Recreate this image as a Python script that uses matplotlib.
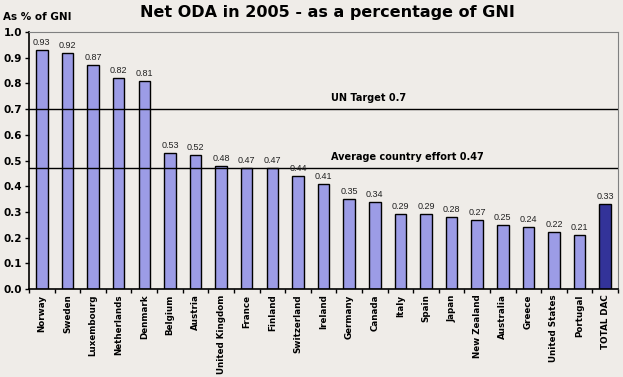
import numpy as np
import matplotlib
matplotlib.use("Agg")
import matplotlib.pyplot as plt
from matplotlib.ticker import FixedLocator

# ---------------------------------------------------------------------
# Data: Net ODA 2005 as % of GNI
# ---------------------------------------------------------------------
countries = ["Norway", "Sweden", "Luxembourg", "Netherlands", "Denmark",
             "Belgium", "Austria", "United Kingdom", "France", "Finland",
             "Switzerland", "Ireland", "Germany", "Canada", "Italy", "Spain",
             "Japan", "New Zealand", "Australia", "Greece", "United States",
             "Portugal", "TOTAL DAC"]
oda_pct = [0.93, 0.92, 0.87, 0.82, 0.81, 0.53, 0.52, 0.48, 0.47, 0.47,
           0.44, 0.41, 0.35, 0.34, 0.29, 0.29, 0.28, 0.27, 0.25, 0.24,
           0.22, 0.21, 0.33]
un_target = 0.7
avg_effort = 0.47

bg = "#efece8"
bar_light = "#9c9ce6"
bar_dark = "#333399"

fig = plt.figure(figsize=(6.23, 3.77), dpi=100, facecolor=bg)
ax = fig.add_axes([0.0466, 0.2334, 0.9454, 0.6816])
ax.set_facecolor(bg)

x = np.arange(len(countries))
colors = [bar_light] * (len(countries) - 1) + [bar_dark]
ax.bar(x, oda_pct, width=0.45, color=colors, edgecolor="black", linewidth=1.0, zorder=2)

for xi, v in zip(x, oda_pct):
    ax.text(xi, v + 0.012, f"{v:.2f}", ha="center", va="bottom",
            fontsize=6.5, family="Liberation Sans", color="#222222", zorder=4)

# reference lines
ax.axhline(un_target, color="black", linewidth=1.0, zorder=3)
ax.axhline(avg_effort, color="black", linewidth=1.0, zorder=3)
ax.text(0.513, un_target + 0.025, "UN Target 0.7", transform=ax.get_yaxis_transform(),
        fontsize=7, fontweight="bold", va="bottom", ha="left")
ax.text(0.513, avg_effort + 0.025, "Average country effort 0.47",
        transform=ax.get_yaxis_transform(),
        fontsize=7, fontweight="bold", va="bottom", ha="left")

ax.set_xlim(-0.5, len(countries) - 0.5)
ax.set_ylim(0, 1.0)
ticks = np.arange(0, 1.01, 0.1)
ax.set_yticks(ticks)
ax.set_yticklabels([f"{t:.1f}" for t in ticks], fontsize=7.5, fontweight="bold")
ax.tick_params(axis="y", direction="out", length=3, width=1, pad=2)

ax.set_xticks(x)
ax.set_xticklabels(countries, rotation=90, fontsize=6.3, fontweight="bold")
ax.tick_params(axis="x", which="major", length=0, pad=4)
ax.xaxis.set_minor_locator(FixedLocator(np.arange(-0.5, len(countries), 1.0)))
ax.tick_params(axis="x", which="minor", direction="out", length=3, width=1)

for side in ["top", "right"]:
    ax.spines[side].set_color("#808080")
for side in ["left", "bottom"]:
    ax.spines[side].set_color("black")
    ax.spines[side].set_linewidth(1.2)

fig.text(0.525, 0.968, "Net ODA in 2005 - as a percentage of GNI",
         ha="center", va="center", fontsize=11.5, fontweight="bold")
fig.text(0.005, 0.955, "As % of GNI", ha="left", va="center",
         fontsize=7.5, fontweight="bold")

fig.savefig("out.png", dpi=100, facecolor=bg)
